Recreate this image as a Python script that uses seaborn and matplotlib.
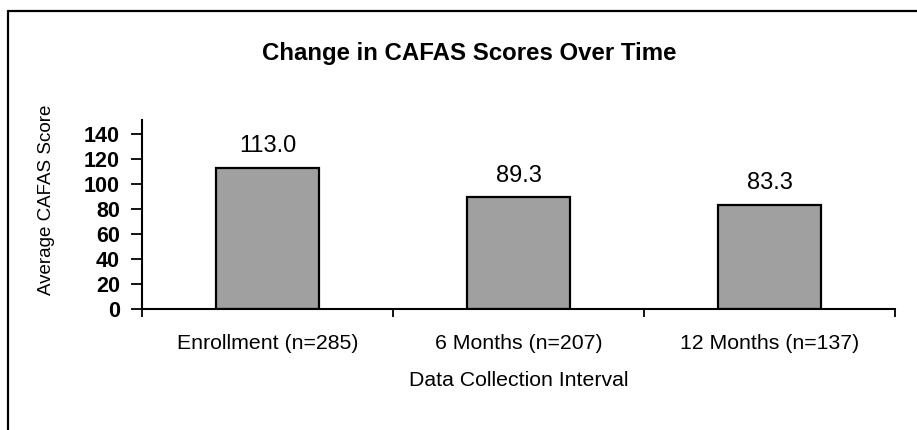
import matplotlib
matplotlib.use("Agg")
import matplotlib.pyplot as plt
from matplotlib.lines import Line2D
import seaborn as sns
import pandas as pd

categories = ["Enrollment (n=285)", "6 Months (n=207)", "12 Months (n=137)"]
scores = [113.0, 89.3, 83.3]
value_labels = ["113.0", "89.3", "83.3"]
y_ticks = [0, 20, 40, 60, 80, 100, 120, 140]

sns.set_theme(style="white")
plt.rcParams['font.family'] = ['Liberation Sans', 'DejaVu Sans']

df = pd.DataFrame({"Interval": categories, "Score": scores})

fig = plt.figure(figsize=(9.17, 4.30), dpi=100)
ax = fig.add_axes([142/917, 1 - 309/430, (895-142)/917, (309-120)/430])

sns.barplot(data=df, x="Interval", y="Score", ax=ax, color="#a0a0a0",
            saturation=1, width=0.41, edgecolor="black", linewidth=1.6)

ax.set_xlim(-0.5, 2.5)
ax.set_ylim(0, 151)
ax.set_yticks(y_ticks)
ax.set_yticklabels([str(t) for t in y_ticks], fontsize=15.5, fontweight='bold', color='black')
ax.tick_params(axis='y', direction='out', length=8, width=1.3, pad=8, left=True, color='black')
ax.tick_params(axis='x', which='major', length=0, pad=18, labelsize=15.3, labelcolor='black')
ax.set_xticks([-0.5, 0.5, 1.5, 2.5], minor=True)
ax.tick_params(axis='x', which='minor', direction='out', length=6, width=1.3, bottom=True, color='black')

for s in ['top', 'right']:
    ax.spines[s].set_visible(False)
for s in ['left', 'bottom']:
    ax.spines[s].set_color('black')
    ax.spines[s].set_linewidth(1.5)

for i, (v, lab) in enumerate(zip(scores, value_labels)):
    ax.annotate(lab, (i, v), xytext=(0, 11), textcoords='offset points',
                ha='center', va='baseline', fontsize=17, color='black')

ax.set_xlabel("Data Collection Interval", fontsize=15.3, color='black', labelpad=13)
ax.set_ylabel("Average CAFAS Score", fontsize=13.5, color='black')
ax.yaxis.set_label_coords(-0.116, 0.577)

fig.text(469.5/917, 1 - 60/430, "Change in CAFAS Scores Over Time",
         ha='center', va='baseline', fontsize=17.3, fontweight='bold', color='black')

# outer frame (left and top edges)
fig.add_artist(Line2D([8/917, 8/917], [0, 1 - 11/430], transform=fig.transFigure,
                      color='black', linewidth=1.6))
fig.add_artist(Line2D([8/917, 1], [1 - 11/430, 1 - 11/430], transform=fig.transFigure,
                      color='black', linewidth=1.6))

fig.savefig("out.png", dpi=100, facecolor='white')
